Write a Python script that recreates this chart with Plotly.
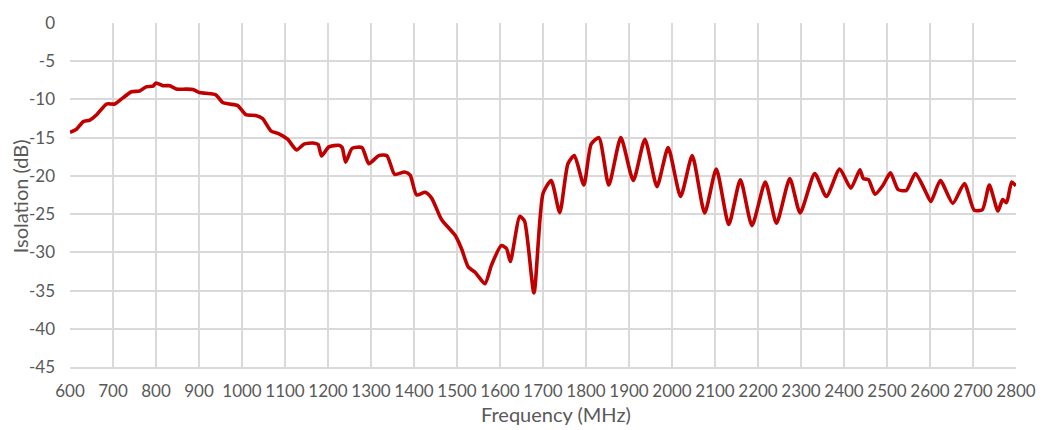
import plotly.graph_objects as go

freq_mhz = [600, 615, 631, 646, 662, 685, 704, 723, 743, 762, 777, 793, 800, 816, 832, 847, 870, 886, 901, 916, 939, 955, 971, 990,
            1009, 1032, 1048, 1067, 1086, 1106, 1127, 1144, 1165, 1177, 1185, 1202, 1225, 1233, 1241, 1256, 1279, 1295, 1318, 1337,
            1355, 1378, 1391, 1406, 1426, 1441, 1464, 1496, 1511, 1526, 1542, 1565, 1580, 1603, 1615, 1624, 1646, 1657, 1679,
            1700, 1719, 1739, 1758, 1773, 1795, 1812, 1830, 1853, 1881, 1910, 1937, 1965, 1991, 2020, 2047, 2076, 2103, 2132,
            2159, 2186, 2217, 2243, 2274, 2298, 2332, 2359, 2390, 2416, 2437, 2445, 2457, 2472, 2491, 2508, 2526, 2545, 2566,
            2588, 2602, 2624, 2653, 2680, 2703, 2722, 2738, 2758, 2769, 2778, 2790, 2800]
isolation_db = [-14.3, -13.9, -12.9, -12.7, -12.0, -10.6, -10.6, -9.8, -9.0, -8.9, -8.35, -8.27, -7.85, -8.2, -8.2, -8.65, -8.65, -8.7,
                -9.08, -9.2, -9.4, -10.4, -10.6, -10.8, -12.0, -12.1, -12.5, -14.1, -14.5, -15.2, -16.6, -15.85, -15.7, -15.9,
                -17.4, -16.2, -16.0, -16.3, -18.2, -16.4, -16.3, -18.4, -17.35, -17.35, -19.8, -19.5, -19.9, -22.5, -22.15, -22.9,
                -25.7, -27.8, -29.6, -31.9, -32.6, -34.1, -31.7, -29.1, -29.5, -31.2, -25.3, -25.9, -35.3, -22.3, -20.6, -24.8,
                -18.4, -17.35, -21.2, -15.85, -15.0, -21.2, -15.0, -20.6, -15.2, -21.4, -16.3, -22.7, -17.35, -24.85, -19.1,
                -26.35, -20.5, -26.5, -20.8, -26.2, -20.35, -24.85, -19.7, -22.7, -19.1, -21.6, -19.2, -20.35, -20.5, -22.4,
                -21.2, -19.6, -21.8, -21.9, -19.7, -21.85, -23.35, -20.6, -23.6, -21.0, -24.5, -24.4, -21.2, -24.6, -23.1,
                -23.5, -20.8, -21.3]

x_ticks = list(range(600, 2801, 100))
y_ticks = list(range(-45, 1, 5))
x_title = "Frequency (MHz)"
y_title = "Isolation (dB)"

fig = go.Figure()
fig.add_trace(go.Scatter(
    x=freq_mhz, y=isolation_db, mode="lines",
    line=dict(color="#C00000", width=3.6, shape="spline", smoothing=0.6),
    showlegend=False, hoverinfo="x+y",
))

font_family = "Lato, 'Open Sans', sans-serif"
fig.update_layout(
    width=1048, height=430,
    margin=dict(l=70, r=28, t=17, b=63),
    paper_bgcolor="white", plot_bgcolor="white",
    font=dict(family=font_family, color="#595959", size=17),
)
fig.update_xaxes(
    range=[600, 2800], tickvals=x_ticks, ticktext=[str(v) for v in x_ticks],
    showgrid=True, gridcolor="#D9D9D9", gridwidth=1.6,
    showline=True, linecolor="#D9D9D9", linewidth=1.6, zeroline=False,
    ticks="", ticklabelstandoff=8, tickfont=dict(size=17, color="#595959"),
)
fig.update_yaxes(
    range=[-45, 0], tickvals=y_ticks, ticktext=[str(v) for v in y_ticks],
    showgrid=True, gridcolor="#D9D9D9", gridwidth=1.6,
    showline=False, zeroline=False,
    ticks="", ticklabelstandoff=14, tickfont=dict(size=17, color="#595959"),
)
fig.add_annotation(text=x_title, xref="paper", yref="paper", x=0.514, y=-0.138,
                   xanchor="center", yanchor="middle", showarrow=False,
                   font=dict(size=20, color="#595959", family=font_family))
fig.add_annotation(text=y_title, xref="paper", yref="paper", x=-0.0526, y=0.497,
                   xanchor="center", yanchor="middle", textangle=-90, showarrow=False,
                   font=dict(size=20, color="#595959", family=font_family))

fig.write_html("out.html")
